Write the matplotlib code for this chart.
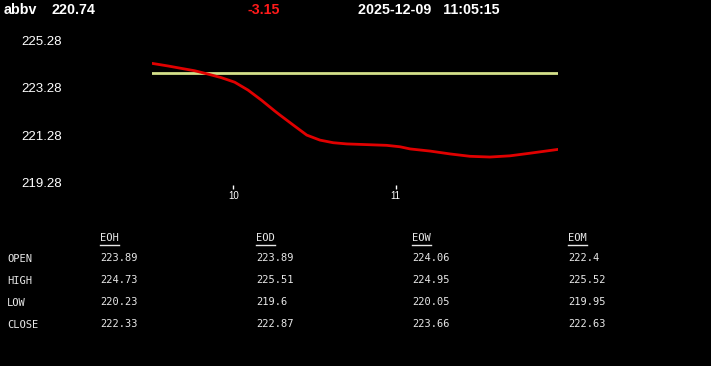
import matplotlib
matplotlib.use("Agg")
import matplotlib.pyplot as plt
from matplotlib.lines import Line2D

# ---- data ----
symbol = "abbv"
last_price = "220.74"
change = "-3.15"
timestamp = "2025-12-09   11:05:15"

hours = [9.500, 9.599, 9.680, 9.763, 9.845, 9.927, 10.009, 10.091, 10.173,
         10.256, 10.288, 10.370, 10.453, 10.534, 10.616, 10.699, 10.822,
         10.945, 11.027, 11.089, 11.212, 11.335, 11.458, 11.581, 11.704,
         11.828, 12.000]
price = [224.30, 224.19, 224.09, 223.99, 223.85, 223.70, 223.51, 223.18, 222.76,
         222.30, 222.13, 221.71, 221.29, 221.08, 220.97, 220.92, 220.89,
         220.86, 220.80, 220.71, 220.62, 220.50, 220.40, 220.37, 220.42,
         220.53, 220.69]
open_level = 223.89

y_ticks = [219.28, 221.28, 223.28, 225.28]
x_ticks = [10, 11]

periods = ["EOH", "EOD", "EOW", "EOM"]
row_names = ["OPEN", "HIGH", "LOW", "CLOSE"]
eoh = ["223.89", "224.73", "220.23", "222.33"]
eod = ["223.89", "225.51", "219.6", "222.87"]
eow = ["224.06", "224.95", "220.05", "223.66"]
eom = ["222.4", "225.52", "219.95", "222.63"]
columns = [eoh, eod, eow, eom]

# ---- figure ----
W, H = 711, 366
fig = plt.figure(figsize=(W / 100, H / 100), dpi=100, facecolor="black")

def fx(px):
    return px / W

def fy(py):
    return 1 - py / H

ax_left, ax_right, ax_top, ax_bottom = 152, 558, 30, 185
ax = fig.add_axes([fx(ax_left), fy(ax_bottom), fx(ax_right - ax_left), (ax_bottom - ax_top) / H])
ax.set_facecolor("black")
for s in ax.spines.values():
    s.set_visible(False)

ax.plot(hours, price, color="#e00000", lw=2.0, solid_capstyle="round",
        solid_joinstyle="round", zorder=3)
ax.plot([hours[0], hours[-1]], [open_level, open_level], color="#d4e08a", lw=2.0, zorder=2)

ax.set_xlim(hours[0], hours[-1])
ax.set_ylim(219.196, 225.70)

ax.set_yticks(y_ticks)
ax.set_yticklabels([f"{v:.2f}" for v in y_ticks])
ax.tick_params(axis="y", length=0, pad=65, colors="white", labelsize=9.5)
for t in ax.get_yticklabels():
    t.set_fontfamily("Liberation Sans")

ax.set_xticks(x_ticks)
ax.set_xticklabels([str(v) for v in x_ticks])
ax.tick_params(axis="x", length=3, width=1, pad=1, colors="white", labelsize=7)
for t in ax.get_xticklabels():
    t.set_fontfamily("Liberation Sans")

# ---- header ----
hdr = dict(fontsize=10.3, fontweight="bold", family="Liberation Sans", va="center", ha="left")
fig.text(fx(4), fy(10), symbol, color="white", **hdr)
fig.text(fx(52), fy(10), last_price, color="white", **hdr)
fig.text(fx(248), fy(10), change, color="#ff1a1a", **hdr)
fig.text(fx(358), fy(10), timestamp, color="white", **hdr)

# ---- table ----
mono = dict(fontsize=7.5, family="DejaVu Sans Mono", color="#e8e8e8", va="center", ha="left")
col_x = [100, 256, 412, 568]
row_y = [259, 281, 303, 325]
for x, name in zip(col_x, periods):
    fig.text(fx(x), fy(238), name, **mono)
    fig.add_artist(Line2D([fx(x), fx(x + 19)], [fy(244.5), fy(244.5)],
                          color="#e8e8e8", lw=1.0, transform=fig.transFigure))
for y, name in zip(row_y, row_names):
    fig.text(fx(7), fy(y), name, **mono)
for x, col in zip(col_x, columns):
    for y, val in zip(row_y, col):
        fig.text(fx(x), fy(y - 1), val, **mono)

fig.savefig("out.png", dpi=100, facecolor="black")
